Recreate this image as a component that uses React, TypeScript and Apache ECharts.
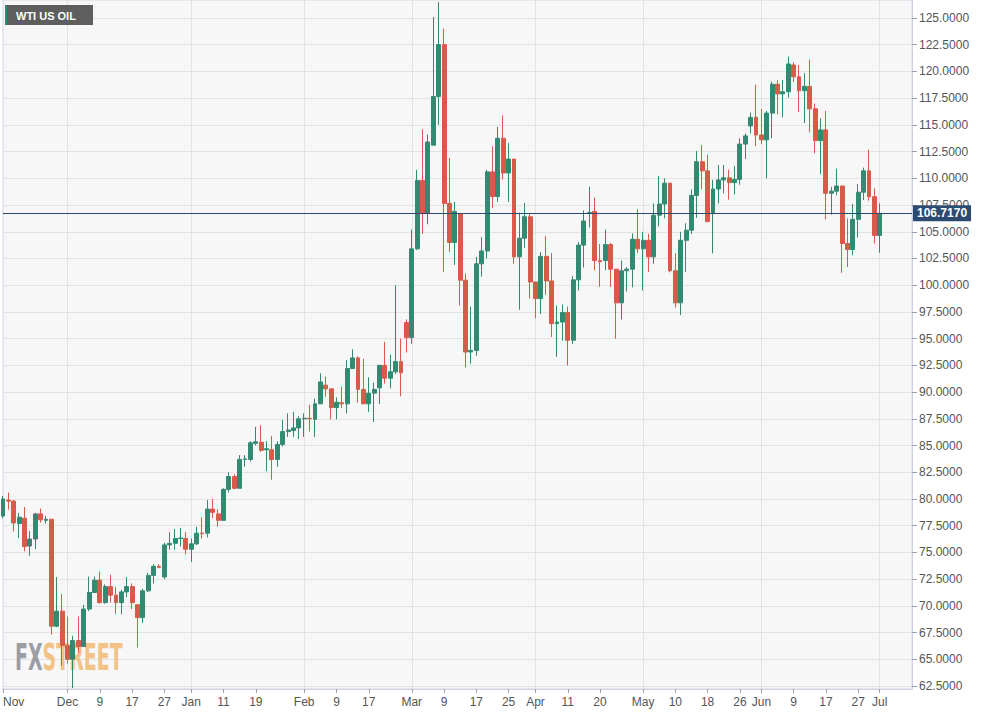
import React, { useEffect, useRef } from "react";
import * as echarts from "echarts";

// OHLC values (daily, WTI US OIL)
const opens = [
  78.4, 79.9, 79.8, 77.7, 78.2, 75.6, 76.25, 78.6, 78.0, 78.1,
  68.1, 69.5, 66.3, 65.0, 66.75, 66.2, 69.7, 71.25, 72.4, 70.3,
  71.8, 71.0, 70.3, 71.3, 71.8, 70.1, 68.9, 71.4, 72.85, 73.7,
  72.7, 75.7, 75.85, 76.3, 76.3, 75.3, 75.8, 76.8, 76.8, 79.05,
  78.6, 78.0, 80.9, 82.1, 81.0, 83.7, 83.7, 85.2, 85.3, 84.6,
  84.6, 83.7, 85.1, 86.3, 86.4, 86.65, 87.5, 87.55, 87.45, 88.9,
  90.65, 90.3, 88.55, 89.0, 88.9, 92.2, 93.2, 90.25, 88.9, 89.9,
  90.4, 92.5, 91.3, 91.9, 92.85, 96.5, 95.1, 103.4, 109.8, 106.7,
  113.1, 117.65, 122.5, 107.65, 104.0, 106.7, 100.47, 93.75, 93.9, 102.0,
  103.2, 110.6, 108.3, 113.75, 110.5, 111.8, 102.65, 104.4, 106.4, 100.3,
  98.75, 102.7, 100.4, 96.4, 96.55, 97.45, 94.85, 100.5, 103.75, 106.7,
  106.9, 102.3, 102.3, 103.8, 101.5, 98.35, 101.35, 101.5, 104.3, 103.4,
  104.2, 102.65, 106.55, 107.6, 109.55, 101.35, 98.35, 104.2, 105.15, 108.4,
  111.55, 110.7, 106.7, 109.0, 109.85, 110.05, 109.6, 109.9, 113.2, 114.9,
  115.72, 114.06, 113.6, 116.1, 118.8, 117.9, 118.1, 120.6, 119.5, 118.2,
  118.6, 116.5, 113.53, 114.53, 108.6, 108.8, 109.28, 103.9, 103.34, 106.16,
  108.7, 110.7, 108.28, 104.66,
];
const closes = [
  80.0, 79.8, 77.75, 78.3, 75.55, 76.25, 78.6, 78.05, 78.1, 68.1,
  69.5, 66.3, 65.0, 66.75, 66.2, 69.7, 71.25, 72.4, 70.3, 71.8,
  71.0, 70.3, 71.3, 71.8, 70.3, 68.9, 71.4, 72.85, 73.7, 73.6,
  75.7, 75.85, 76.3, 76.35, 75.3, 75.8, 76.8, 76.75, 79.05, 78.75,
  78.0, 80.9, 82.1, 81.0, 83.7, 83.75, 85.25, 85.35, 84.55, 84.7,
  83.7, 85.1, 86.3, 86.45, 86.65, 87.5, 87.55, 87.5, 88.9, 90.95,
  90.3, 88.55, 89.05, 88.9, 92.2, 93.2, 90.25, 88.9, 89.9, 90.25,
  92.5, 91.3, 91.9, 92.85, 91.8, 95.1, 103.4, 109.8, 106.7, 113.4,
  117.65, 122.5, 107.65, 104.0, 106.9, 100.47, 93.75, 93.9, 102.0, 103.2,
  110.6, 108.3, 113.75, 110.5, 111.8, 102.65, 104.4, 106.4, 100.3, 98.75,
  102.7, 100.4, 96.4, 96.55, 97.45, 94.85, 100.5, 103.75, 106.0, 106.8,
  102.3, 102.2, 103.8, 101.5, 98.35, 101.35, 101.5, 104.3, 103.4, 104.2,
  102.65, 106.55, 107.6, 109.55, 101.35, 98.35, 104.2, 105.15, 108.4, 111.55,
  110.7, 105.95, 109.0, 109.85, 110.05, 109.6, 109.9, 113.2, 113.97, 115.7,
  114.06, 113.6, 116.1, 118.8, 117.9, 118.1, 120.7, 119.5, 118.2, 118.6,
  116.5, 113.53, 114.53, 108.6, 108.8, 109.28, 103.9, 103.34, 106.16, 108.7,
  110.7, 108.28, 104.66, 106.717,
];
const lows = [
  78.2, 79.0, 76.95, 76.35, 75.1, 74.7, 75.3, 77.8, 77.7, 67.3,
  68.0, 64.4, 64.6, 62.3, 65.6, 66.2, 69.5, 71.2, 70.2, 70.2,
  70.3, 69.25, 69.2, 70.8, 69.7, 66.1, 68.4, 71.3, 72.1, 73.5,
  72.5, 75.25, 75.25, 75.55, 74.8, 74.1, 75.7, 76.3, 76.4, 78.2,
  77.4, 78.0, 80.6, 80.9, 81.0, 83.0, 83.5, 85.0, 84.4, 82.6,
  81.8, 83.0, 84.9, 85.8, 85.8, 85.6, 85.8, 86.3, 85.8, 88.9,
  89.55, 87.45, 87.45, 88.5, 88.0, 92.2, 89.0, 88.9, 88.15, 87.2,
  88.9, 90.8, 90.35, 91.7, 89.6, 93.7, 94.5, 103.3, 104.8, 105.7,
  113.1, 115.0, 101.25, 103.1, 101.9, 98.1, 92.3, 92.65, 93.4, 100.8,
  102.5, 107.2, 107.8, 109.9, 107.8, 102.0, 97.7, 103.5, 98.75, 96.9,
  97.3, 99.1, 95.15, 93.3, 94.8, 92.5, 94.5, 99.5, 101.65, 105.4,
  101.4, 99.85, 101.4, 99.85, 95.0, 96.8, 99.4, 99.8, 103.0, 99.5,
  101.25, 102.0, 105.5, 106.25, 101.2, 97.9, 97.2, 101.25, 104.8, 106.3,
  108.97, 105.9, 102.97, 107.65, 108.6, 108.0, 108.5, 109.4, 111.8, 114.2,
  113.0, 113.2, 110.0, 113.75, 116.0, 115.7, 117.56, 119.0, 116.2, 115.16,
  114.3, 112.34, 110.4, 106.16, 106.6, 108.4, 101.16, 101.7, 102.8, 104.47,
  107.97, 107.9, 103.9, 103.03,
];
const highs = [
  80.3, 80.6, 79.9, 78.7, 79.25, 77.0, 78.7, 79.1, 78.4, 78.1,
  72.7, 71.1, 69.0, 67.2, 69.0, 70.1, 72.75, 72.75, 73.2, 72.0,
  72.9, 71.8, 71.5, 72.7, 72.1, 70.1, 71.6, 73.1, 73.9, 73.9,
  75.9, 76.9, 77.2, 77.3, 76.9, 76.3, 77.4, 78.3, 79.9, 80.0,
  79.05, 81.0, 82.5, 82.3, 84.1, 84.1, 85.4, 86.75, 86.9, 85.4,
  85.9, 85.4, 87.4, 88.0, 88.15, 87.75, 88.0, 88.8, 89.4, 91.75,
  91.45, 90.3, 89.5, 90.5, 93.0, 94.0, 93.35, 93.1, 91.4, 90.9,
  92.5, 94.7, 93.5, 100.0, 95.0, 96.8, 105.2, 110.8, 114.6, 114.1,
  125.1, 126.5, 124.0, 111.9, 107.8, 106.7, 101.1, 98.0, 102.65, 104.5,
  110.8, 113.0, 114.8, 115.9, 113.3, 111.8, 106.8, 107.7, 106.65, 100.3,
  103.1, 104.6, 103.0, 98.1, 98.2, 98.0, 100.85, 104.05, 107.0, 109.2,
  108.2, 103.85, 105.2, 103.95, 101.5, 102.3, 101.7, 104.85, 107.1, 105.0,
  104.8, 107.65, 110.2, 110.0, 109.55, 103.0, 105.0, 105.8, 108.97, 112.55,
  113.1, 112.2, 109.85, 111.25, 111.25, 110.8, 111.15, 113.75, 114.2, 116.15,
  118.75, 116.5, 116.3, 119.06, 119.2, 119.2, 121.4, 120.85, 120.6, 119.84,
  121.1, 117.0, 115.6, 116.3, 109.2, 110.9, 109.28, 106.25, 107.6, 109.47,
  111.0, 112.7, 109.06, 107.66,
];
const lastPrice = 106.717;

const skippedDays = ["2022-04-15"];
const yTicks = [
  62.5, 65, 67.5, 70, 72.5, 75, 77.5, 80, 82.5, 85, 87.5, 90, 92.5, 95,
  97.5, 100, 102.5, 105, 107.5, 110, 112.5, 115, 117.5, 120, 122.5, 125,
];
const xTickDates = [
  "2021-11-15", "2021-12-01", "2021-12-09", "2021-12-17", "2021-12-27",
  "2022-01-03", "2022-01-11", "2022-01-19", "2022-02-01", "2022-02-09",
  "2022-02-17", "2022-03-01", "2022-03-09", "2022-03-17", "2022-03-25",
  "2022-04-01", "2022-04-11", "2022-04-20", "2022-05-02", "2022-05-10",
  "2022-05-18", "2022-05-26", "2022-06-01", "2022-06-09", "2022-06-17",
  "2022-06-27", "2022-07-01",
];
const xTickLabels = [
  "Nov", "Dec", "9", "17", "27", "Jan", "11", "19", "Feb", "9", "17",
  "Mar", "9", "17", "25", "Apr", "11", "20", "May", "10", "18", "26",
  "Jun", "9", "17", "27", "Jul",
];
const monthStartDates = [
  "2021-12-01", "2022-01-03", "2022-02-01", "2022-03-01", "2022-04-01",
  "2022-05-02", "2022-06-01", "2022-07-01",
];

function buildCategories(): string[] {
  const out: string[] = [];
  const d = new Date(Date.UTC(2021, 10, 15));
  const end = new Date(Date.UTC(2022, 6, 11));
  while (d.getTime() <= end.getTime()) {
    const wd = d.getUTCDay();
    const key = d.toISOString().slice(0, 10);
    if (wd !== 0 && wd !== 6 && skippedDays.indexOf(key) < 0) out.push(key);
    d.setUTCDate(d.getUTCDate() + 1);
  }
  return out;
}

export default function App() {
  const ref = useRef<HTMLDivElement>(null);
  useEffect(() => {
    document.body.style.margin = "0";
    if (!ref.current) return;
    const chart = echarts.init(ref.current, undefined, { renderer: "svg" });
    const categories = buildCategories();
    const labelMap: Record<string, string> = {};
    xTickDates.forEach((d, i) => (labelMap[d] = xTickLabels[i]));
    const tickIdx = new Set<number>();
    const monthIdx = new Set<number>();
    categories.forEach((c, i) => {
      if (labelMap[c] !== undefined) tickIdx.add(i);
      if (monthStartDates.indexOf(c) >= 0) monthIdx.add(i);
    });
    const ohlc = opens.map((o, i) => [o, closes[i], lows[i], highs[i]]);
    const font = '"Liberation Sans", Arial, sans-serif';
    const up = "#338a72";
    const down = "#d75a4a";
    const navy = "#2d4b70";

    chart.setOption({
      animation: false,
      backgroundColor: "#ffffff",
      textStyle: { fontFamily: font },
      grid: {
        left: 0,
        right: 70,
        top: 0,
        bottom: 26,
        show: true,
        backgroundColor: "#f7f7f7",
        borderColor: "#d3d6e6",
        borderWidth: 1,
      },
      xAxis: {
        type: "category",
        data: categories,
        boundaryGap: false,
        axisLine: { show: true, lineStyle: { color: "#ccd0e2" } },
        axisTick: {
          show: true,
          interval: (i: number) => tickIdx.has(i),
          length: 4,
          lineStyle: { color: "#9aa0b4" },
        },
        axisLabel: {
          interval: (i: number) => tickIdx.has(i),
          formatter: (v: string) => labelMap[v] ?? "",
          color: "#555555",
          fontSize: 12,
          fontFamily: font,
          margin: 7,
          alignMinLabel: "left",
        },
        splitLine: {
          show: true,
          interval: (i: number) => monthIdx.has(i),
          lineStyle: { color: "#e3e3e3" },
        },
      },
      yAxis: {
        type: "value",
        position: "right",
        min: 62.219,
        max: 126.684,
        axisLine: { show: true, lineStyle: { color: "#ccd0e2" } },
        axisTick: {
          show: true,
          length: 5,
          customValues: yTicks,
          lineStyle: { color: "#9aa0b4" },
        },
        axisLabel: {
          customValues: yTicks,
          formatter: (v: number) => v.toFixed(4),
          color: "#555555",
          fontSize: 12,
          fontFamily: font,
          margin: 7,
        },
        splitLine: { show: true, lineStyle: { color: "#e3e3e3" } },
      },
      series: [
        {
          type: "candlestick",
          data: ohlc,
          barWidth: 4.4,
          itemStyle: {
            color: up,
            color0: down,
            borderColor: up,
            borderColor0: down,
            borderWidth: 1,
          },
          markLine: {
            silent: true,
            symbol: "none",
            data: [{ yAxis: lastPrice }],
            lineStyle: { color: navy, width: 1, type: "solid" },
            label: {
              show: true,
              position: "end",
              formatter: lastPrice.toFixed(4),
              backgroundColor: navy,
              color: "#ffffff",
              fontWeight: "bold",
              fontSize: 12,
              fontFamily: font,
              padding: [2, 4, 2, 4],
              distance: 1,
            },
          },
        },
      ],
      graphic: [
        {
          type: "text",
          x: 15,
          y: 657,
          z: 1,
          scaleX: 0.57,
          style: {
            text: "{a|FX}{b|STREET}",
            verticalAlign: "middle",
            rich: {
              a: { fill: "#9c9ca4", font: 'bold 37px "DejaVu Sans Condensed"' },
              b: { fill: "#f2c287", font: 'bold 37px "DejaVu Sans Condensed"' },
            },
          },
        },
        {
          type: "rect",
          x: 5,
          y: 5,
          z: 100,
          shape: { x: 0, y: 0, width: 88, height: 20 },
          style: { fill: "#5e5e5e" },
        },
        {
          type: "rect",
          x: 5,
          y: 5,
          z: 101,
          shape: { x: 0, y: 0, width: 2, height: 20 },
          style: { fill: "#2e8b6e" },
        },
        {
          type: "text",
          x: 16,
          y: 15.5,
          z: 101,
          style: {
            text: "WTI US OIL",
            fill: "#ffffff",
            font: 'bold 11px "Liberation Sans", Arial, sans-serif',
            verticalAlign: "middle",
          },
        },
      ],
    });
    return () => chart.dispose();
  }, []);
  return <div ref={ref} style={{ width: 982, height: 715 }} />;
}
